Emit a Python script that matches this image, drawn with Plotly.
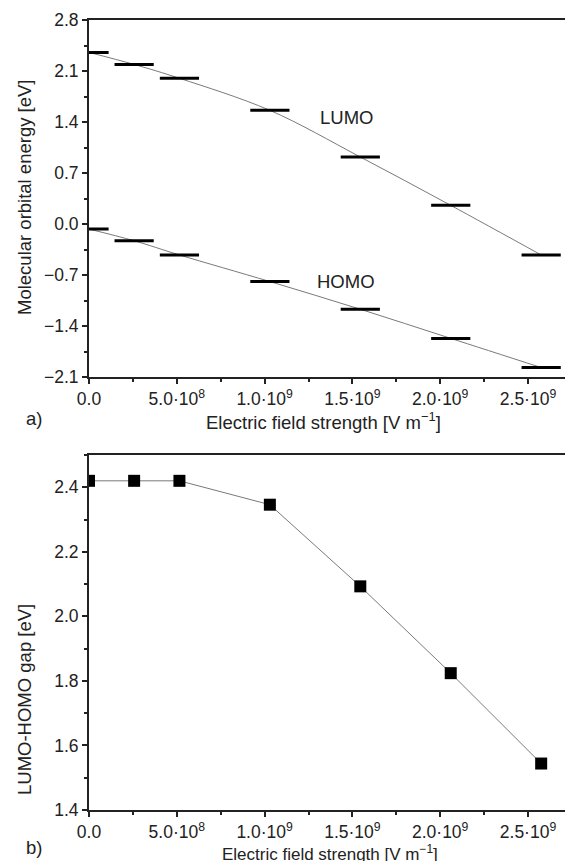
import plotly.graph_objects as go

field = [0.0, 2.57e8, 5.15e8, 1.03e9, 1.545e9, 2.06e9, 2.575e9]
lumo = [2.355, 2.19, 2.0, 1.56, 0.92, 0.256, -0.425]
homo = [-0.07, -0.23, -0.425, -0.79, -1.17, -1.57, -1.97]
gap = [2.42, 2.42, 2.42, 2.346, 2.093, 1.824, 1.544]

xtick_vals = [0, 5e8, 1e9, 1.5e9, 2e9, 2.5e9]
xtick_text = ["0.0", "5.0·10<sup>8</sup>", "1.0·10<sup>9</sup>", "1.5·10<sup>9</sup>",
              "2.0·10<sup>9</sup>", "2.5·10<sup>9</sup>"]

W, H = 565, 861
FONT = "Liberation Sans, Arial, sans-serif"
AX = 89  # pixel of left axis
PX_PER_UNIT = 175.6e-9  # px per V/m

fig = go.Figure()

for ys in (lumo, homo):
    fig.add_trace(go.Scatter(x=field, y=ys, mode="lines", line=dict(color="#7a7a7a", width=1, shape="spline"),
                             xaxis="x", yaxis="y", showlegend=False, hoverinfo="skip"))
    fig.add_trace(go.Scatter(x=field, y=ys, mode="markers",
                             marker=dict(symbol="line-ew", size=28, line=dict(color="black", width=3)),
                             xaxis="x", yaxis="y", showlegend=False))

fig.add_trace(go.Scatter(x=field, y=gap, mode="lines+markers",
                         line=dict(color="#7a7a7a", width=1),
                         marker=dict(symbol="square", size=12, color="black", line=dict(width=0)),
                         xaxis="x2", yaxis="y2", showlegend=False))

xmax = (W - AX) / PX_PER_UNIT
xaxis_common = dict(
    range=[0, xmax], tickvals=xtick_vals, ticktext=xtick_text,
    showline=True, linecolor="#222", linewidth=2, mirror=True,
    ticks="outside", ticklen=5, tickwidth=1.5, tickcolor="#222",
    minor=dict(dtick=2.5e8, tick0=0, ticks="outside", ticklen=3, tickwidth=1.5, tickcolor="#222"),
    showgrid=False, zeroline=False, automargin=False,
    tickfont=dict(family=FONT, size=17.5, color="#222"),
    domain=[AX / W, 1],
)
yaxis_common = dict(
    showline=True, linecolor="#222", linewidth=2, automargin=False,
    ticks="outside", ticklen=5, tickwidth=1.5, tickcolor="#222",
    showgrid=False, zeroline=False, tickformat=".1f",
    tickfont=dict(family=FONT, size=17.5, color="#222"),
)

fig.update_layout(
    width=W, height=H,
    margin=dict(l=0, r=0, t=0, b=0, pad=0),
    paper_bgcolor="white", plot_bgcolor="white",
    hovermode=False,
    xaxis=dict(**xaxis_common, anchor="y"),
    xaxis2=dict(**xaxis_common, anchor="y2"),
    yaxis=dict(**yaxis_common, range=[-2.1, 2.8], dtick=0.7, tick0=-2.1,
               minor=dict(dtick=0.35, tick0=-2.1, ticks="outside", ticklen=3, tickwidth=1.5, tickcolor="#222"),
               domain=[1 - 377 / H, 1 - 20 / H], anchor="x"),
    yaxis2=dict(**yaxis_common, range=[1.4, 2.5], dtick=0.2, tick0=1.4,
                minor=dict(dtick=0.1, tick0=1.4, ticks="outside", ticklen=3, tickwidth=1.5, tickcolor="#222"),
                domain=[1 - 810 / H, 1 - 455 / H], anchor="x2"),
    font=dict(family=FONT, color="#222"),
)

def ann(text, x, y, size=18.5, angle=0):
    fig.add_annotation(text=text, x=x / W, y=1 - y / H, xref="paper", yref="paper",
                       showarrow=False, font=dict(family=FONT, size=size, color="#222"),
                       textangle=angle, xanchor="center", yanchor="middle")

ann("LUMO", 346, 118)
ann("HOMO", 346, 281)
ann("Molecular orbital energy [eV]", 24, 198, angle=-90)
ann("LUMO-HOMO gap [eV]", 24, 700, angle=-90)
ann("Electric field strength [V m<sup>−1</sup>]", 323, 421)
ann("Electric field strength [V m<sup>−1</sup>]", 330, 853, size=17)
ann("a)", 34, 418)
ann("b)", 34, 847)

fig.write_html("out.html", config={"displayModeBar": False},
               post_script="document.body.style.margin='0px';document.body.style.overflow='hidden';")
